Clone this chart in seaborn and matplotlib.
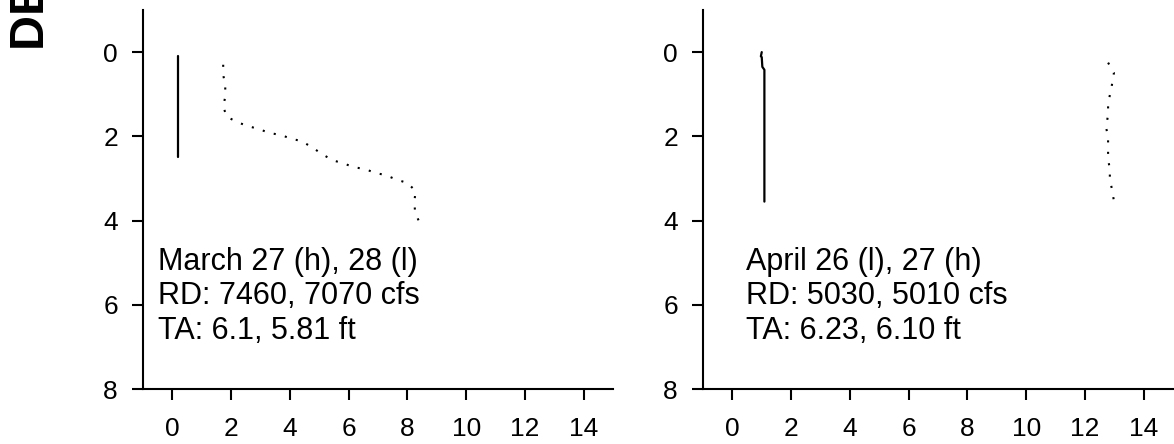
import matplotlib
matplotlib.use("Agg")
import matplotlib.pyplot as plt
import seaborn as sns
import pandas as pd

# Left panel: March 27 (h) / 28 (l)
march_solid_x = [0.2, 0.2, 0.2, 0.2]
march_solid_depth = [0.1, 1.0, 2.0, 2.5]
march_dot_x = [1.73, 1.73, 1.80, 1.80, 1.73, 1.86, 2.27, 2.59, 2.96, 3.30, 3.71, 4.05,
               4.39, 4.73, 5.14, 5.46, 5.82, 6.16, 6.57, 6.91, 7.26, 7.60, 8.01, 8.28,
               8.24, 8.26, 8.42]
march_dot_depth = [0.30, 0.54, 0.78, 1.06, 1.30, 1.54, 1.68, 1.76, 1.83, 1.92, 1.97, 2.06,
                   2.11, 2.25, 2.44, 2.57, 2.64, 2.73, 2.78, 2.87, 2.92, 3.02, 3.11, 3.30,
                   3.54, 3.80, 4.06]

# Right panel: April 26 (l) / 27 (h)
april_solid_x = [1.00, 0.97, 1.00, 1.02, 1.09, 1.09]
april_solid_depth = [0.00, 0.10, 0.12, 0.35, 0.42, 3.55]
april_dot_x = [12.79, 12.99, 12.92, 12.85, 12.79, 12.79, 12.72, 12.79, 12.79, 12.79,
               12.85, 12.85, 12.92, 12.99]
april_dot_depth = [0.25, 0.49, 0.78, 1.02, 1.25, 1.49, 1.78, 2.02, 2.25, 2.54,
                   2.78, 3.02, 3.25, 3.54]

panel_notes = [
    "March 27 (h), 28 (l)\nRD: 7460, 7070 cfs\nTA: 6.1, 5.81 ft",
    "April 26 (l), 27 (h)\nRD: 5030, 5010 cfs\nTA: 6.23, 6.10 ft",
]
x_ticks = [0, 2, 4, 6, 8, 10, 12, 14]
y_ticks = [0, 2, 4, 6, 8]

sns.set_style("ticks")
plt.rcParams["font.family"] = ["Liberation Sans", "DejaVu Sans"]
plt.rcParams.update({
    "axes.linewidth": 1.5,
    "xtick.major.width": 1.5,
    "ytick.major.width": 1.5,
    "xtick.major.size": 8,
    "ytick.major.size": 8,
    "xtick.major.pad": 12,
    "ytick.major.pad": 10,
    "xtick.color": "black",
    "ytick.color": "black",
    "axes.edgecolor": "black",
    "text.color": "black",
})

fig = plt.figure(figsize=(11.74, 4.44), dpi=100)
ax1 = fig.add_axes([143 / 1174, 55 / 444, 470 / 1174, 379 / 444])
ax2 = fig.add_axes([703 / 1174, 55 / 444, 470 / 1174, 379 / 444])

panels = [
    (ax1, march_solid_x, march_solid_depth, march_dot_x, march_dot_depth, panel_notes[0], -0.50),
    (ax2, april_solid_x, april_solid_depth, april_dot_x, april_dot_depth, panel_notes[1], 0.45),
]

for ax, sx, sd, dx, dd, note, note_x in panels:
    solid = pd.DataFrame({"value": sx, "depth": sd})
    dotted = pd.DataFrame({"value": dx, "depth": dd})
    sns.lineplot(data=solid, x="value", y="depth", sort=False, estimator=None,
                 color="black", linewidth=1.6, ax=ax)
    sns.lineplot(data=dotted, x="value", y="depth", sort=False, estimator=None,
                 color="black", linewidth=1.5, dashes=False, ax=ax)
    ax.lines[-1].set_dashes((1, 4.5))
    ax.set_xlim(-1, 15)
    ax.set_ylim(8, -1)
    ax.set_xticks(x_ticks)
    ax.set_yticks(y_ticks)
    ax.tick_params(labelsize=19)
    ax.set_xlabel("")
    ax.set_ylabel("")
    sns.despine(ax=ax)
    ax.text(note_x, 4.62, note, fontsize=22, va="top", ha="left", linespacing=1.2)

fig.text(0.027, 0.887, "DEPTH (ft)", rotation=90, fontsize=35, fontweight="bold",
         ha="center", va="bottom")

fig.savefig("out.png", dpi=100)
